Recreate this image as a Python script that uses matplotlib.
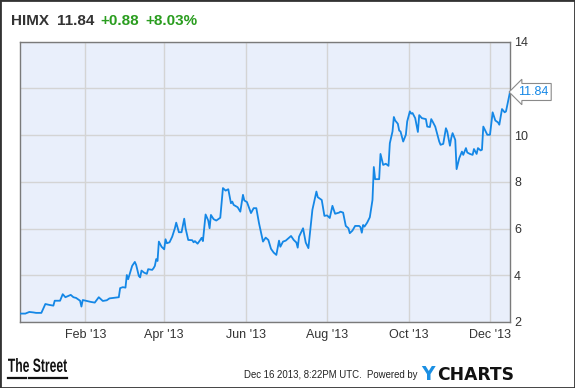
import matplotlib
matplotlib.use('Agg')
import matplotlib.pyplot as plt
import matplotlib.transforms as mtransforms
from matplotlib.lines import Line2D
from matplotlib.patches import PathPatch
from matplotlib.textpath import TextPath
from matplotlib.font_manager import FontProperties
import pandas as pd

plt.rcParams['font.family'] = ['Liberation Sans', 'DejaVu Sans']

W, H = 575, 388

# HIMX closing prices
dates = [
    '2012-12-14', '2012-12-18', '2012-12-20', '2012-12-21', '2012-12-24', '2012-12-26',
    '2012-12-30', '2013-01-02', '2013-01-05', '2013-01-08', '2013-01-09', '2013-01-13',
    '2013-01-15', '2013-01-17', '2013-01-19', '2013-01-21', '2013-01-23', '2013-01-25',
    '2013-01-28', '2013-01-29', '2013-01-30', '2013-02-02', '2013-02-05', '2013-02-08',
    '2013-02-11', '2013-02-14', '2013-02-17', '2013-02-19', '2013-02-23', '2013-02-26',
    '2013-02-27', '2013-03-01', '2013-03-03', '2013-03-04', '2013-03-05', '2013-03-08',
    '2013-03-10', '2013-03-11', '2013-03-13', '2013-03-14', '2013-03-15', '2013-03-17',
    '2013-03-19', '2013-03-20', '2013-03-23', '2013-03-24', '2013-03-25', '2013-03-26',
    '2013-03-27', '2013-03-28', '2013-03-30', '2013-04-01', '2013-04-02', '2013-04-03',
    '2013-04-05', '2013-04-07', '2013-04-09', '2013-04-10', '2013-04-12', '2013-04-14',
    '2013-04-16', '2013-04-17', '2013-04-19', '2013-04-22', '2013-04-23', '2013-04-24',
    '2013-04-26', '2013-04-28', '2013-04-29', '2013-04-30', '2013-05-02', '2013-05-04',
    '2013-05-05', '2013-05-06', '2013-05-08', '2013-05-10', '2013-05-13', '2013-05-15',
    '2013-05-17', '2013-05-19', '2013-05-21', '2013-05-22', '2013-05-23', '2013-05-26',
    '2013-05-28', '2013-05-30', '2013-05-31', '2013-06-02', '2013-06-05', '2013-06-07',
    '2013-06-09', '2013-06-11', '2013-06-14', '2013-06-16', '2013-06-18', '2013-06-20',
    '2013-06-22', '2013-06-24', '2013-06-26', '2013-06-27', '2013-06-29', '2013-07-01',
    '2013-07-03', '2013-07-05', '2013-07-07', '2013-07-09', '2013-07-10', '2013-07-11',
    '2013-07-14', '2013-07-16', '2013-07-18', '2013-07-21', '2013-07-24', '2013-07-25',
    '2013-07-28', '2013-07-30', '2013-08-01', '2013-08-03', '2013-08-05', '2013-08-07',
    '2013-08-10', '2013-08-11', '2013-08-13', '2013-08-15', '2013-08-17', '2013-08-18',
    '2013-08-20', '2013-08-22', '2013-08-25', '2013-08-26', '2013-08-27', '2013-08-28',
    '2013-08-29', '2013-08-31', '2013-09-02', '2013-09-04', '2013-09-05', '2013-09-06',
    '2013-09-09', '2013-09-10', '2013-09-12', '2013-09-14', '2013-09-16', '2013-09-17',
    '2013-09-19', '2013-09-20', '2013-09-21', '2013-09-23', '2013-09-24', '2013-09-25',
    '2013-09-27', '2013-09-28', '2013-09-29', '2013-09-30', '2013-10-02', '2013-10-03',
    '2013-10-04', '2013-10-06', '2013-10-08', '2013-10-09', '2013-10-11', '2013-10-14',
    '2013-10-15', '2013-10-17', '2013-10-18', '2013-10-19', '2013-10-21', '2013-10-24',
    '2013-10-25', '2013-10-27', '2013-10-29', '2013-10-30', '2013-11-01', '2013-11-02',
    '2013-11-03', '2013-11-05', '2013-11-06', '2013-11-08', '2013-11-10', '2013-11-11',
    '2013-11-13', '2013-11-14', '2013-11-16', '2013-11-18', '2013-11-19', '2013-11-21',
    '2013-11-22', '2013-11-24', '2013-11-25', '2013-11-26', '2013-11-29', '2013-12-01',
    '2013-12-03', '2013-12-05', '2013-12-07', '2013-12-08', '2013-12-10', '2013-12-12',
    '2013-12-13', '2013-12-16',
]
prices = [
    2.36, 2.36, 2.41, 2.43, 2.41, 2.39,
    2.39, 2.77, 2.73, 2.70, 2.91, 2.91,
    3.19, 3.06, 3.11, 3.16, 3.06, 3.03,
    2.91, 2.66, 2.94, 2.90, 2.86, 2.83,
    3.06, 2.90, 2.93, 3.01, 3.04, 3.06,
    3.45, 3.49, 3.47, 4.01, 3.83, 4.40,
    4.57, 4.44, 3.97, 3.91, 4.20, 4.11,
    4.06, 4.26, 4.23, 4.30, 4.40, 4.69,
    4.61, 5.44, 5.22, 5.11, 5.54, 5.37,
    5.41, 5.65, 6.01, 6.25, 5.84, 5.84,
    6.42, 6.01, 5.51, 5.50, 5.41, 5.46,
    5.35, 5.51, 5.60, 5.46, 6.60, 6.34,
    6.01, 6.58, 6.40, 6.34, 6.46, 7.73,
    7.62, 7.68, 7.08, 7.15, 7.01, 6.91,
    6.72, 7.44, 7.20, 7.13, 6.66, 6.87,
    6.87, 6.23, 5.44, 5.61, 5.51, 5.13,
    4.97, 4.87, 5.48, 5.22, 5.44, 5.48,
    5.58, 5.68, 5.51, 5.40, 5.18, 5.65,
    6.01, 5.40, 5.16, 6.80, 7.58, 7.34,
    7.22, 6.54, 6.56, 6.45, 6.97, 6.63,
    6.68, 6.72, 6.68, 6.11, 6.01, 5.80,
    5.91, 6.11, 6.11, 6.06, 5.82, 6.15,
    6.08, 6.25, 6.48, 7.22, 8.63, 8.11,
    8.11, 9.19, 8.72, 8.77, 8.68, 9.65,
    10.15, 10.77, 10.62, 10.48, 10.19, 10.15,
    9.72, 9.87, 10.01, 10.58, 11.01, 10.91,
    10.94, 10.72, 10.13, 10.85, 10.72, 10.68,
    10.36, 10.34, 10.68, 10.58, 10.36, 9.72,
    9.58, 9.62, 10.29, 10.15, 9.54, 9.87,
    10.08, 9.79, 8.54, 9.01, 9.29, 9.15,
    9.44, 9.25, 9.19, 9.15, 9.40, 9.19,
    9.44, 9.34, 9.37, 10.36, 10.01, 10.01,
    10.97, 10.62, 10.54, 10.44, 11.11, 10.97,
    11.01, 11.84,
]

ticker = 'HIMX'
last_price = '11.84'
change = '+0.88'
change_pct = '+8.03%'
y_ticks = [2, 4, 6, 8, 10, 12, 14]
y_labels = ['2', '4', '6', '8', '10', '', '14']
x_ticks = ['2013-02-01', '2013-04-01', '2013-06-01', '2013-08-01', '2013-10-01', '2013-12-01']
x_labels = ["Feb '13", "Apr '13", "Jun '13", "Aug '13", "Oct '13", "Dec '13"]

LINE = '#1487e6'
GREEN = '#2a9d1f'
TXT = '#333333'

x = pd.to_datetime(dates)

fig = plt.figure(figsize=(W / 100, H / 100), dpi=100)
ax = fig.add_axes([20 / W, 1 - 322 / H, 490 / W, 280.5 / H])
ax.set_facecolor('#e9effb')

ax.plot(x, prices, color=LINE, lw=1.3, solid_joinstyle='round', zorder=3)
ax.set_xlim(x[0], x[-1])
ax.set_ylim(2, 14)

ax.set_yticks(y_ticks)
ax.set_yticklabels(y_labels)
ax.yaxis.tick_right()
ax.set_xticks(pd.to_datetime(x_ticks))
ax.set_xticklabels(x_labels)
ax.tick_params(length=0, labelsize=9, colors=TXT)
ax.tick_params(axis='y', pad=3)
ax.tick_params(axis='x', pad=5)
ax.grid(True, color='#d4d4d4', lw=1)
ax.set_axisbelow(True)
for sp in ax.spines.values():
    sp.set_color('#7a7a7a')
    sp.set_linewidth(1)

# last-price tag
ax.annotate(last_price, xy=(x[-1], prices[-1]), xytext=(6, 0),
            textcoords='offset points', va='center', ha='left',
            fontsize=9, color=LINE, annotation_clip=False,
            bbox=dict(boxstyle='larrow,pad=0.2', fc='white', ec='#8a8a8a', lw=0.8))

# header
hy = 1 - 21 / H
fig.text(11 / W, hy, ticker, fontsize=11, fontweight='bold', color=TXT, va='center')
fig.text(57 / W, hy, last_price, fontsize=11, fontweight='bold', color=TXT, va='center')
fig.text(100 / W, hy, change, fontsize=11, fontweight='bold', color=GREEN, va='center')
fig.text(145 / W, hy, change_pct, fontsize=11, fontweight='bold', color=GREEN, va='center')

# footer: "The Street" logo, squeezed to a condensed look
tp = TextPath((0, 0), 'The Street', size=18,
              prop=FontProperties(family='Liberation Sans', weight='bold'))
bb = tp.get_extents()
sx = 59 / bb.width
sy = 14 / bb.height
tr = mtransforms.Affine2D().translate(-bb.x0, -bb.y0).scale(sx, sy).translate(8, H - 372)
fig.add_artist(PathPatch(tp, transform=tr + mtransforms.IdentityTransform(),
                         fc='#111111', ec='none'))
for x0, x1 in [(8, 26), (29, 47), (49, 67)]:
    fig.add_artist(Line2D([x0 / W, x1 / W], [1 - 378 / H] * 2, color='#111111', lw=1.6))

fig.text(417 / W, 1 - 375 / H, 'Dec 16 2013, 8:22PM UTC.  Powered by', fontsize=6.9,
         color='#222222', ha='right', va='center')
fig.text(421 / W, 1 - 375 / H, 'Y', fontsize=13.5, fontweight='bold', color='#1a8fe3',
         family='DejaVu Sans', va='center')
fig.text(437 / W, 1 - 375 / H, 'CHARTS', fontsize=12.3, fontweight='bold', color='#111111',
         family='DejaVu Sans', va='center')

# outer frame
fig.add_artist(plt.Rectangle((0, 0), 1, 1, transform=fig.transFigure, fill=False,
                             ec='#333333', lw=2))

fig.savefig('out.png', dpi=100)
